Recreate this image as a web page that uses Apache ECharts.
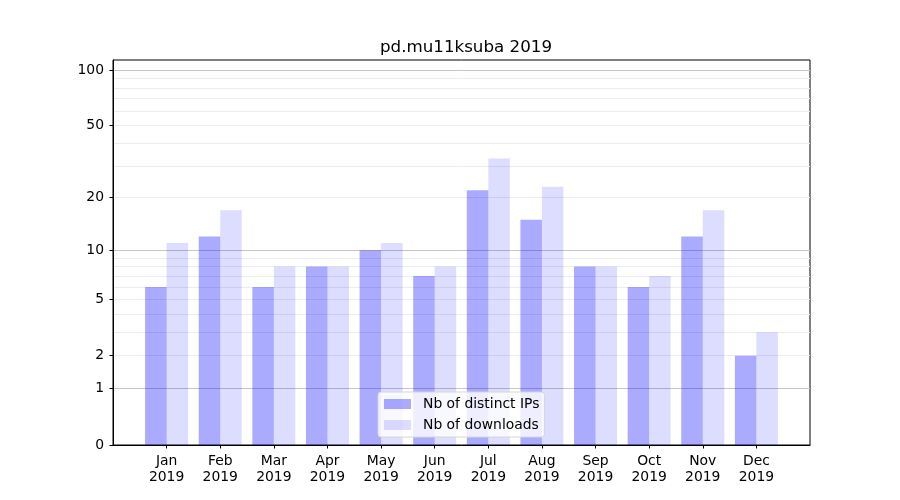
<!DOCTYPE html>
<html>
<head>
<meta charset="utf-8">
<script src="https://cdn.jsdelivr.net/npm/echarts@6/dist/echarts.min.js"></script>
<style>
  html, body { margin: 0; padding: 0; background: #fff; }
  #main { width: 900px; height: 500px; }
</style>
</head>
<body>
<div id="main"></div>
<script>
// 月份
var months = ['Jan', 'Feb', 'Mar', 'Apr', 'May', 'Jun', 'Jul', 'Aug', 'Sep', 'Oct', 'Nov', 'Dec']
var year = '2019'
// 数值
var ipCounts = [6, 12, 6, 8, 10, 7, 22, 15, 8, 6, 12, 2]
var downloadCounts = [11, 17, 8, 8, 11, 8, 33, 23, 8, 7, 17, 3]
// y轴刻度 (log(1+x) 刻度)
var yTicks = [0, 1, 2, 5, 10, 20, 50, 100]
var majorGrid = [1, 10, 100]
var minorGrid = [2, 3, 4, 5, 6, 7, 8, 9, 20, 30, 40, 50, 60, 70, 80, 90]
var yMax = 113.3

var FONT = 'DejaVu Sans'
function tf(v) { return v == null ? null : Math.log10(1 + v) }
function pad(arr) { return [null].concat(arr.map(tf), [null]) }

var categories = [''].concat(months.map(function (m) { return m + '\n' + year }), [''])

function hiddenAxis(values, color) {
  return {
    type: 'value', min: 0, max: tf(yMax),
    axisLine: { show: false },
    axisTick: { show: false, customValues: values.map(tf) },
    axisLabel: { show: false, customValues: values.map(tf) },
    splitLine: { show: true, lineStyle: { color: color, width: 1 } }
  }
}

var chart = echarts.init(document.getElementById('main'), null, { renderer: 'canvas' })
var option = {
  backgroundColor: '#fff',
  animation: false,
  textStyle: { fontFamily: FONT },
  title: {
    text: 'pd.mu11ksuba 2019',
    left: 461, top: 34, textAlign: 'center',
    textStyle: { fontFamily: FONT, fontSize: 16.7, fontWeight: 'normal', color: '#000' }
  },
  grid: {
    left: 113, right: 90, top: 60, bottom: 55,
    show: true, borderColor: '#000', borderWidth: 1, backgroundColor: 'transparent'
  },
  legend: {
    orient: 'vertical', left: 378, top: 392,
    padding: [5, 5, 5, 6],
    itemWidth: 27, itemHeight: 10, itemGap: 7,
    icon: 'rect',
    backgroundColor: 'rgba(255,255,255,0.8)',
    borderColor: '#d6d6d6', borderWidth: 1, borderRadius: 3,
    textStyle: { fontFamily: FONT, fontSize: 13.9, color: '#000', padding: [0, 0, 0, 7] },
    z: 10
  },
  xAxis: {
    type: 'category',
    data: categories,
    boundaryGap: false,
    axisLine: { show: true, lineStyle: { color: '#000' } },
    axisTick: {
      show: true, length: 3.5, inside: false,
      interval: function (i, v) { return v !== '' },
      lineStyle: { color: '#000' }
    },
    axisLabel: {
      interval: function (i, v) { return v !== '' },
      fontFamily: FONT, fontSize: 13.9, color: '#000', lineHeight: 16.5, margin: 8
    },
    splitLine: { show: false }
  },
  yAxis: [
    {
      type: 'value', min: 0, max: tf(yMax),
      axisLine: { show: true, lineStyle: { color: '#000' } },
      axisTick: { show: true, length: 3.5, customValues: yTicks.map(tf), lineStyle: { color: '#000' } },
      axisLabel: {
        customValues: yTicks.map(tf),
        formatter: function (v) { return String(Math.round(Math.pow(10, v) - 1)) },
        fontFamily: FONT, fontSize: 13.9, color: '#000', margin: 9
      },
      splitLine: { show: false }
    },
    hiddenAxis(majorGrid, '#c6c6c6'),
    hiddenAxis(minorGrid, '#ececec')
  ],
  series: [
    {
      name: 'Nb of distinct IPs', type: 'bar', yAxisIndex: 0,
      data: pad(ipCounts),
      barWidth: 21.5, barGap: '0%',
      itemStyle: { color: 'rgba(0,0,255,0.333)' }
    },
    {
      name: 'Nb of downloads', type: 'bar', yAxisIndex: 0,
      data: pad(downloadCounts),
      barWidth: 21.5, barGap: '0%',
      itemStyle: { color: 'rgba(0,0,255,0.133)' }
    }
  ]
}
chart.setOption(option)
</script>
</body>
</html>
